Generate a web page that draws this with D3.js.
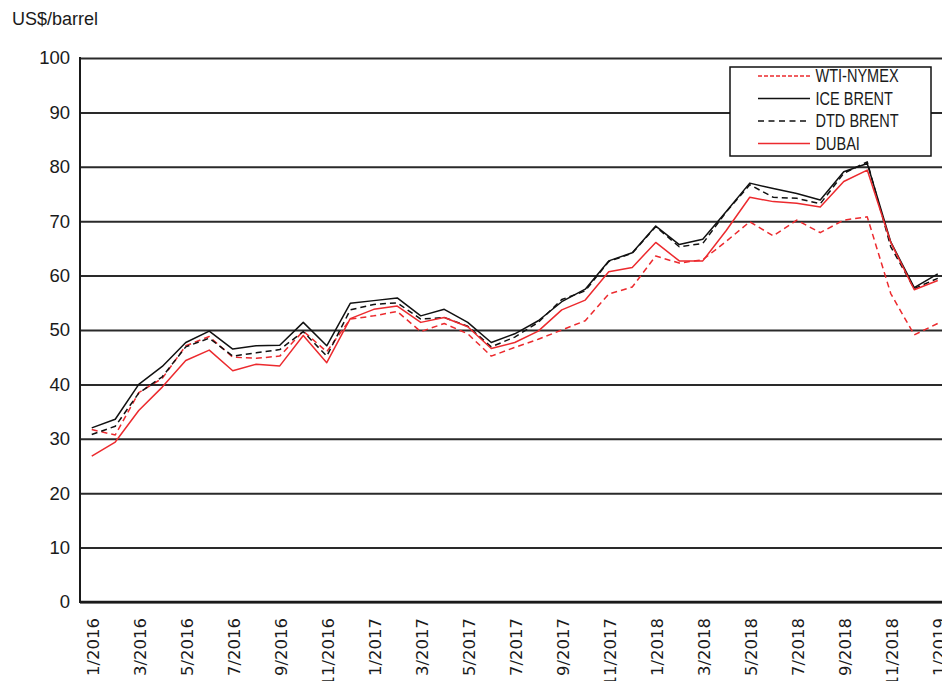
<!DOCTYPE html>
<html>
<head>
<meta charset="utf-8">
<script src="https://cdn.jsdelivr.net/npm/d3@7"></script>
<style>
  html, body { margin: 0; padding: 0; background: #fff; }
  svg { display: block; }
</style>
</head>
<body>
<div id="chart"></div>
<script>
const months = ["1/2016","2/2016","3/2016","4/2016","5/2016","6/2016","7/2016","8/2016","9/2016","10/2016","11/2016","12/2016",
  "1/2017","2/2017","3/2017","4/2017","5/2017","6/2017","7/2017","8/2017","9/2017","10/2017","11/2017","12/2017",
  "1/2018","2/2018","3/2018","4/2018","5/2018","6/2018","7/2018","8/2018","9/2018","10/2018","11/2018","12/2018","1/2019"];
const xTickLabels = ["1/2016","3/2016","5/2016","7/2016","9/2016","11/2016","1/2017","3/2017","5/2017","7/2017","9/2017","11/2017",
  "1/2018","3/2018","5/2018","7/2018","9/2018","11/2018","1/2019"];
const yTicks = [0,10,20,30,40,50,60,70,80,90,100];

const wtiNymex = [31.7,30.7,38.5,41.1,47.1,48.8,45.0,44.8,45.2,49.8,46.0,52.0,52.6,53.4,49.7,51.2,49.3,45.2,46.8,48.3,50.0,51.7,56.6,57.9,63.6,62.3,62.9,66.3,69.9,67.3,70.2,67.9,70.2,70.8,56.7,49.1,51.2];
const iceBrent = [32.0,33.6,40.0,43.3,47.7,49.8,46.5,47.1,47.2,51.4,47.1,54.9,55.4,55.9,52.6,53.8,51.4,47.7,49.3,51.7,55.2,57.5,62.7,64.2,69.1,65.7,66.7,71.8,77.0,76.0,75.1,73.9,79.1,80.6,66.2,57.8,60.3];
const dtdBrent = [30.8,32.3,38.4,41.4,46.9,48.5,45.2,45.8,46.4,49.7,45.2,53.7,54.7,55.0,52.0,52.3,50.7,46.9,48.7,51.4,55.6,57.2,62.6,64.1,69.0,65.3,65.9,71.7,76.7,74.4,74.2,73.2,78.8,80.9,65.3,57.6,59.5];
const dubai = [26.8,29.4,35.2,39.5,44.4,46.3,42.5,43.7,43.4,49.0,44.0,52.1,53.8,54.4,51.4,52.3,50.6,46.6,47.7,49.8,53.7,55.5,60.7,61.5,66.1,62.7,62.7,68.3,74.4,73.6,73.3,72.6,77.3,79.4,66.1,57.4,59.1];

const seriesNames = ["WTI-NYMEX","ICE BRENT","DTD BRENT","DUBAI"];
const seriesValues = [wtiNymex, iceBrent, dtdBrent, dubai];

const W = 942, H = 681;
const plotLeft = 80, plotRight = 949.5, plotTop = 58, plotBottom = 602;
const RED = "#ec2a2e", BLACK = "#111";
const styles = [
  {color: RED, dash: "6,4", legendDash: "4,2"},
  {color: BLACK, dash: null, legendDash: null},
  {color: BLACK, dash: "6,4", legendDash: "6,4.5"},
  {color: RED, dash: null, legendDash: null}
];

const svg = d3.select("#chart").append("svg").attr("width", W).attr("height", H);

const x = d3.scalePoint().domain(months).range([plotLeft, plotRight]).padding(0.5);
const y = d3.scaleLinear().domain([0, 100]).range([plotBottom, plotTop]);

// unit label
svg.append("text").attr("x", 12).attr("y", 24.5)
  .attr("font-family", "'Liberation Sans', Arial, sans-serif").attr("font-size", 18)
  .attr("fill", "#1a1a1a").text("US$/barrel");

// y axis with gridlines
const yAxis = svg.append("g").attr("transform", `translate(${plotLeft},0)`)
  .call(d3.axisLeft(y).tickValues(yTicks).tickSize(-(plotRight - plotLeft)).tickPadding(10));
yAxis.select(".domain").remove();
yAxis.selectAll(".tick line").attr("stroke", "#2a2a2a").attr("stroke-width", 2);
yAxis.selectAll(".tick text")
  .attr("font-family", "'Liberation Sans', Arial, sans-serif").attr("font-size", 18.5)
  .attr("fill", "#1a1a1a");

// left axis line
svg.append("line").attr("x1", plotLeft).attr("x2", plotLeft)
  .attr("y1", plotTop - 1).attr("y2", plotBottom + 1)
  .attr("stroke", "#1a1a1a").attr("stroke-width", 2);
// thicker bottom line
svg.append("line").attr("x1", plotLeft).attr("x2", plotRight)
  .attr("y1", plotBottom).attr("y2", plotBottom)
  .attr("stroke", "#1a1a1a").attr("stroke-width", 2.5);

// x axis
const xAxis = svg.append("g").attr("transform", `translate(0,${plotBottom})`)
  .call(d3.axisBottom(x).tickValues(xTickLabels).tickSize(0).tickPadding(0));
xAxis.select(".domain").remove();
xAxis.selectAll(".tick text")
  .attr("font-family", "'DejaVu Sans', sans-serif").attr("font-size", 16.5)
  .attr("fill", "#1a1a1a")
  .attr("text-anchor", "end")
  .attr("transform", "rotate(-90)")
  .attr("x", -16).attr("y", 1).attr("dy", "0.36em");

// lines
const line = d3.line().x((d, i) => x(months[i])).y(d => y(d));
seriesValues.forEach((vals, k) => {
  svg.append("path").datum(vals)
    .attr("d", line)
    .attr("fill", "none")
    .attr("stroke", styles[k].color)
    .attr("stroke-width", 1.5)
    .attr("stroke-linejoin", "round")
    .attr("stroke-dasharray", styles[k].dash);
});

// legend
const lg = svg.append("g");
lg.append("rect").attr("x", 730).attr("y", 67).attr("width", 201).attr("height", 89)
  .attr("fill", "#fff").attr("stroke", "#111").attr("stroke-width", 1.5);
seriesNames.forEach((name, k) => {
  const cy = 76 + k * 22.5;
  lg.append("line").attr("x1", 758).attr("x2", 810).attr("y1", cy).attr("y2", cy)
    .attr("stroke", styles[k].color).attr("stroke-width", 1.5)
    .attr("stroke-dasharray", styles[k].legendDash);
  lg.append("text").attr("transform", `translate(815.5,${cy}) scale(0.83,1)`)
    .attr("dy", "0.36em")
    .attr("font-family", "'Liberation Sans', Arial, sans-serif")
    .attr("font-size", 17.5).attr("fill", "#1a1a1a").text(name);
});
</script>
</body>
</html>
